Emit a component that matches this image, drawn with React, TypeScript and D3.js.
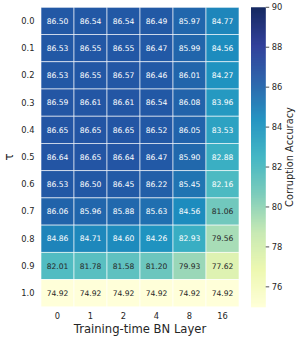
import React, { useEffect, useRef } from 'react';
import * as d3 from 'd3';

const taus = ['0.0', '0.1', '0.2', '0.3', '0.4', '0.5', '0.6', '0.7', '0.8', '0.9', '1.0'];
const layers = ['0', '1', '2', '4', '8', '16'];
const accuracy: number[][] = [
  [86.50, 86.54, 86.54, 86.49, 85.97, 84.77],
  [86.53, 86.55, 86.55, 86.47, 85.99, 84.56],
  [86.53, 86.55, 86.57, 86.46, 86.01, 84.27],
  [86.59, 86.61, 86.61, 86.54, 86.08, 83.96],
  [86.65, 86.65, 86.65, 86.52, 86.05, 83.53],
  [86.64, 86.65, 86.64, 86.47, 85.90, 82.88],
  [86.53, 86.50, 86.45, 86.22, 85.45, 82.16],
  [86.06, 85.96, 85.88, 85.63, 84.56, 81.06],
  [84.86, 84.71, 84.60, 84.26, 82.93, 79.56],
  [82.01, 81.78, 81.58, 81.20, 79.93, 77.62],
  [74.92, 74.92, 74.92, 74.92, 74.92, 74.92],
];
const colorbarTicks = [76, 78, 80, 82, 84, 86, 88, 90];

// matplotlib YlGnBu anchor colours
const ylGnBu = ['#ffffd9', '#edf8b1', '#c7e9b4', '#7fcdbb', '#41b6c4', '#1d91c0', '#225ea8', '#253494', '#081d58'];

const FONT = '"DejaVu Sans", sans-serif';

const App: React.FC = () => {
  const svgRef = useRef<SVGSVGElement>(null);

  useEffect(() => {
    if (!svgRef.current) return;
    const svg = d3.select(svgRef.current);
    svg.selectAll('*').remove();

    const vmin = 75, vmax = 90;
    const left = 41, top = 7.3, width = 198, height = 299.5;

    const x = d3.scaleBand().domain(layers).range([left, left + width]);
    const y = d3.scaleBand().domain(taus).range([top, top + height]);
    const t = d3.scaleLinear().domain([vmin, vmax]).range([0, 1]).clamp(true);
    const cmap = d3.scaleLinear<string>()
      .domain(d3.range(ylGnBu.length).map(i => i / (ylGnBu.length - 1)))
      .range(ylGnBu)
      .interpolate(d3.interpolateRgb);
    const color = (v: number) => cmap(t(v));

    // seaborn picks annotation colour from relative luminance
    const lum = (c: string) => {
      const rgb = d3.rgb(c);
      const lin = [rgb.r, rgb.g, rgb.b].map(v => {
        const s = v / 255;
        return s <= 0.03928 ? s / 12.92 : Math.pow((s + 0.055) / 1.055, 2.4);
      });
      return 0.2126 * lin[0] + 0.7152 * lin[1] + 0.0722 * lin[2];
    };

    const g = svg.append('g');

    accuracy.forEach((row, i) => {
      row.forEach((v, j) => {
        const c = color(v);
        g.append('rect')
          .attr('x', x(layers[j])!).attr('y', y(taus[i])!)
          .attr('width', x.bandwidth()).attr('height', y.bandwidth())
          .attr('fill', c)
          .attr('stroke', 'rgba(255,255,255,0.75)').attr('stroke-width', 0.8);
        g.append('text')
          .attr('x', x(layers[j])! + x.bandwidth() / 2)
          .attr('y', y(taus[i])! + y.bandwidth() / 2)
          .attr('dy', '0.36em')
          .attr('text-anchor', 'middle')
          .attr('font-family', FONT).attr('font-size', 7.6)
          .attr('fill', lum(c) > 0.408 ? '#262626' : '#ffffff')
          .text(v.toFixed(2));
      });
    });

    // y ticks
    taus.forEach(d => {
      g.append('text')
        .attr('x', 34.5).attr('y', y(d)! + y.bandwidth() / 2).attr('dy', '0.36em')
        .attr('text-anchor', 'end')
        .attr('font-family', FONT).attr('font-size', 8.3).attr('fill', '#262626')
        .text(d);
    });
    // x ticks
    layers.forEach(d => {
      g.append('text')
        .attr('x', x(d)! + x.bandwidth() / 2).attr('y', 318.8)
        .attr('text-anchor', 'middle')
        .attr('font-family', FONT).attr('font-size', 8.3).attr('fill', '#262626')
        .text(d);
    });

    g.append('text')
      .attr('x', left + width / 2).attr('y', 332.5)
      .attr('text-anchor', 'middle')
      .attr('font-family', FONT).attr('font-size', 11.6).attr('fill', '#262626')
      .text('Training-time BN Layer');

    g.append('text')
      .attr('transform', `translate(12.6,${top + height / 2}) rotate(-90)`)
      .attr('text-anchor', 'middle')
      .attr('font-family', FONT).attr('font-size', 11.6).attr('fill', '#262626')
      .text('τ');

    // colorbar
    const cbX = 251, cbW = 14.7;
    const cy = d3.scaleLinear().domain([vmin, vmax]).range([top + height, top]);
    const steps = d3.range(0, 300);
    const cb = svg.append('g');
    steps.forEach(k => {
      const v0 = vmin + (vmax - vmin) * k / steps.length;
      const v1 = vmin + (vmax - vmin) * (k + 1) / steps.length;
      cb.append('rect')
        .attr('x', cbX).attr('y', cy(v1))
        .attr('width', cbW).attr('height', cy(v0) - cy(v1) + 0.5)
        .attr('fill', color((v0 + v1) / 2));
    });
    colorbarTicks.forEach(v => {
      cb.append('line')
        .attr('x1', cbX + cbW).attr('x2', cbX + cbW + 3.5)
        .attr('y1', cy(v)).attr('y2', cy(v))
        .attr('stroke', '#262626').attr('stroke-width', 0.8);
      cb.append('text')
        .attr('x', cbX + cbW + 6).attr('y', cy(v)).attr('dy', '0.36em')
        .attr('font-family', FONT).attr('font-size', 8.3).attr('fill', '#262626')
        .text(v);
    });
    cb.append('text')
      .attr('transform', `translate(293,${top + height / 2}) rotate(-90)`)
      .attr('text-anchor', 'middle')
      .attr('font-family', FONT).attr('font-size', 9.8).attr('fill', '#262626')
      .text('Corruption Accuracy');
  }, []);

  return (
    <svg
      ref={svgRef}
      width={299}
      height={339}
      style={{ position: 'absolute', left: 0, top: 0, background: '#fff' }}
    />
  );
};

export default App;
